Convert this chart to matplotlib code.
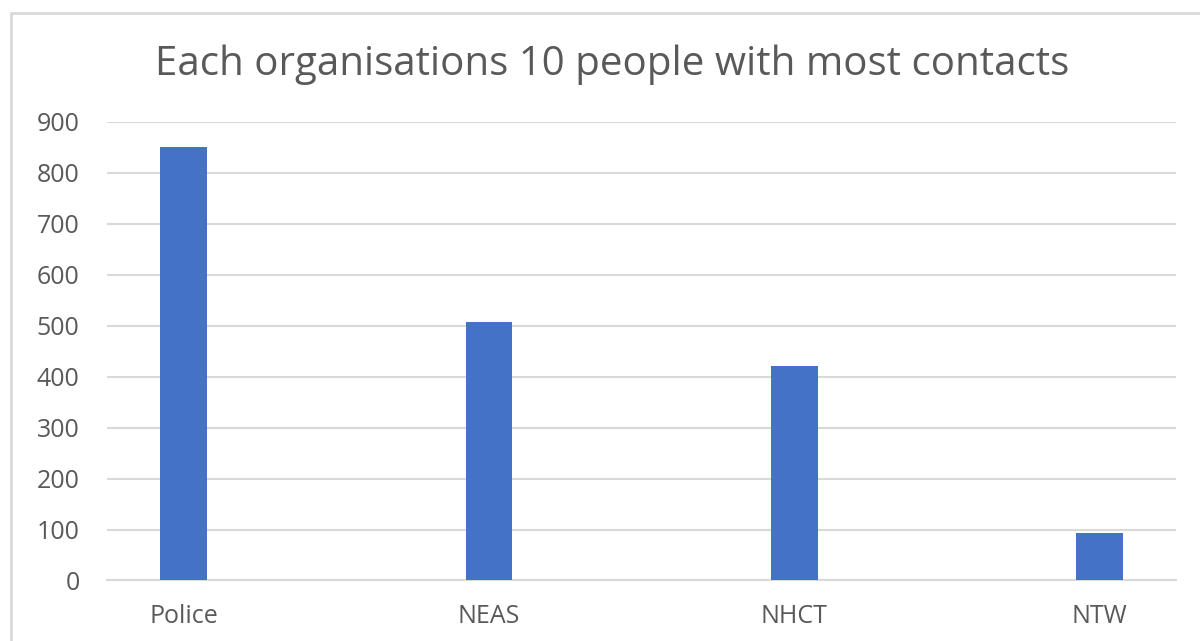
import matplotlib.pyplot as plt
from matplotlib.patches import Rectangle

organisaciones = ["Police", "NEAS", "NHCT", "NTW"]
contactos = [850, 507, 421, 94]
ticks_y = [0, 100, 200, 300, 400, 500, 600, 700, 800, 900]

plt.rcParams["font.family"] = ["Open Sans", "DejaVu Sans"]

fig = plt.figure(figsize=(12, 6.41), dpi=100)
ax = fig.add_axes([0.0894, 0.0944, 0.8904, 0.7153])

# borde gris del grafico
fig.patches.append(
    Rectangle((11 / 1200, -0.05), 1.2, 1 - 13 / 641 + 0.05,
              transform=fig.transFigure, fill=False,
              edgecolor="#d9d9d9", linewidth=2)
)

x = range(len(organisaciones))
ax.bar(x, contactos, width=0.153, color="#4472c4", zorder=3)

ax.set_xlim(-0.25, 3.25)
ax.set_ylim(0, 900)
ax.set_yticks(ticks_y)
ax.set_xticks(list(x))
ax.set_xticklabels(organisaciones)
ax.grid(axis="y", color="#d9d9d9", linewidth=1.5, zorder=0)
for lado in ["top", "right", "left"]:
    ax.spines[lado].set_visible(False)
ax.spines["bottom"].set_color("#d9d9d9")
ax.spines["bottom"].set_linewidth(1.5)
ax.tick_params(axis="both", length=0, labelsize=18, labelcolor="#595959")
ax.tick_params(axis="y", pad=20)
ax.tick_params(axis="x", pad=17)

fig.text(0.51, 0.899, "Each organisations 10 people with most contacts",
         ha="center", va="center", fontsize=29, color="#595959")

fig.savefig("out.png", dpi=100)
